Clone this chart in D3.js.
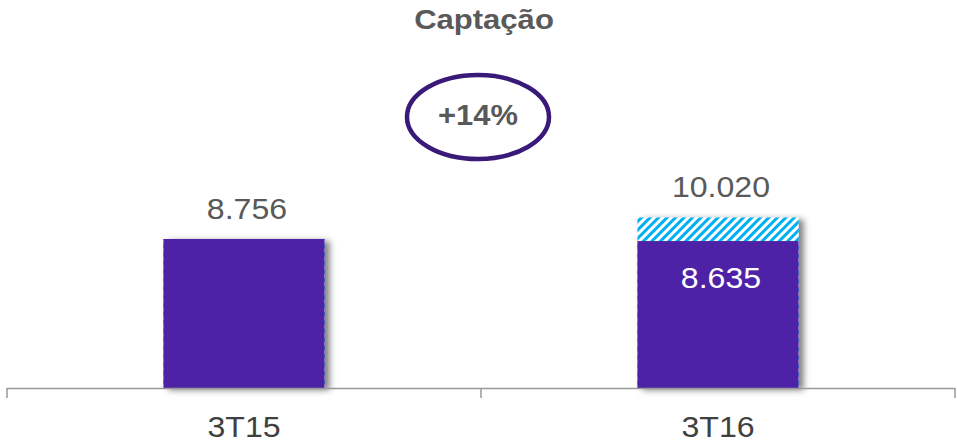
<!DOCTYPE html>
<html>
<head>
<meta charset="utf-8">
<script src="https://cdn.jsdelivr.net/npm/d3@7"></script>
<style>
  body { margin: 0; background: #fff; }
  #chart { width: 957px; height: 444px; }
  text { font-family: "Liberation Sans", Arial, sans-serif; }
</style>
</head>
<body>
<div id="chart"></div>
<script>
// DATA
const categories = ["3T15", "3T16"];
const baseValues = [8756, 8635];
const totalValues = [8756, 10020];
const topLabels = ["8.756", "10.020"];
const innerLabels = ["", "8.635"];
const title = "Captação";
const growthLabel = "+14%";

// SVG CANVAS
const width = 957;
const height = 444;
const margin = {top: 40, left: 7, right: 2, bottom: 56};

const svg = d3.select("#chart")
    .append("svg")
    .attr("width", width)
    .attr("height", height);

const defs = svg.append("defs");

// shadow
const shadow = defs.append("filter")
    .attr("id", "shadow")
    .attr("x", "-10%").attr("y", "-10%")
    .attr("width", "130%").attr("height", "130%");
shadow.append("feDropShadow")
    .attr("dx", 5).attr("dy", 2)
    .attr("stdDeviation", 3)
    .attr("flood-color", "#000")
    .attr("flood-opacity", 0.5);

// hatch pattern
const pattern = defs.append("pattern")
    .attr("id", "hatch")
    .attr("patternUnits", "userSpaceOnUse")
    .attr("width", 6).attr("height", 6)
    .attr("patternTransform", "rotate(45)");
pattern.append("rect").attr("width", 6).attr("height", 6).attr("fill", "#fff");
pattern.append("rect").attr("width", 3).attr("height", 6).attr("fill", "#00B0F0");

// SCALES
const xScale = d3.scaleBand()
    .domain(categories)
    .range([margin.left, width - margin.right])
    .paddingInner(0.66)
    .paddingOuter(0.33);

const yScale = d3.scaleLinear()
    .domain([0, 8756])
    .range([height - margin.bottom, 239]);

const baseY = yScale(0);
const cx = d => xScale(d) + xScale.bandwidth() / 2;

// BARS
const g = svg.append("g");

g.selectAll(".hatchBar")
    .data(categories)
    .enter()
    .append("rect")
        .attr("class", "hatchBar")
        .attr("x", d => xScale(d))
        .attr("width", xScale.bandwidth())
        .attr("y", (d, i) => yScale(totalValues[i]))
        .attr("height", (d, i) => baseY - yScale(totalValues[i]))
        .attr("fill", "url(#hatch)")
        .attr("filter", "url(#shadow)");

g.selectAll(".baseBar")
    .data(categories)
    .enter()
    .append("rect")
        .attr("class", "baseBar")
        .attr("x", d => xScale(d))
        .attr("width", xScale.bandwidth())
        .attr("y", (d, i) => yScale(baseValues[i]))
        .attr("height", (d, i) => baseY - yScale(baseValues[i]))
        .attr("fill", "#4E22A6");

// AXIS
svg.append("line")
    .attr("x1", margin.left).attr("x2", width - margin.right)
    .attr("y1", baseY + 0.5).attr("y2", baseY + 0.5)
    .attr("stroke", "#999").attr("stroke-width", 1.5);

const tickXs = [margin.left, margin.left + (width - margin.left - margin.right) / 2, width - margin.right];
svg.selectAll(".tick-sep")
    .data(tickXs)
    .enter()
    .append("line")
        .attr("x1", d => d).attr("x2", d => d)
        .attr("y1", baseY).attr("y2", baseY + 10)
        .attr("stroke", "#999").attr("stroke-width", 1.5);

// stretched text helper
function label(x, y, str, size, color, bold, sx) {
    svg.append("text")
        .attr("transform", `translate(${x},${y}) scale(${sx},1)`)
        .attr("text-anchor", "middle")
        .attr("font-size", size)
        .attr("font-weight", bold ? "bold" : "normal")
        .attr("fill", color)
        .text(str);
}

categories.forEach(function(d, i) {
    label(cx(d), 437, d, 30, "#404040", false, 1.07);
    label(cx(d) + 3, yScale(totalValues[i]) - 20, topLabels[i], 30, "#595959", false, 1.07);
    if (innerLabels[i]) {
        label(cx(d) + 3, yScale(baseValues[i]) + 47, innerLabels[i], 30, "#fff", false, 1.07);
    }
});

// TITLE
label(484, 29, title, 27, "#595959", true, 1.15);

// GROWTH BUBBLE
svg.append("ellipse")
    .attr("cx", 478).attr("cy", 117)
    .attr("rx", 71).attr("ry", 42)
    .attr("fill", "none")
    .attr("stroke", "#3A1A78")
    .attr("stroke-width", 4.5);

label(478, 125, growthLabel, 30, "#595959", true, 1.03);
</script>
</body>
</html>
